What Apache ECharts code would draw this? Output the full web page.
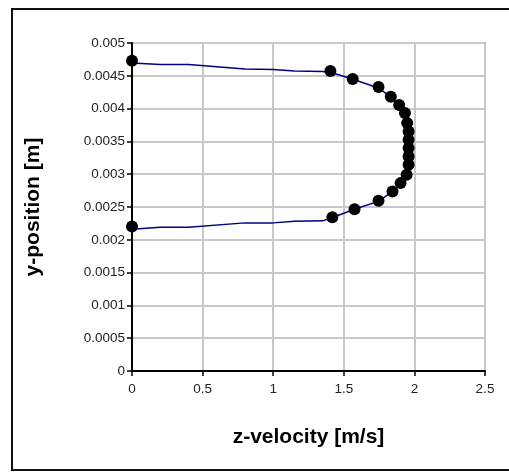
<!DOCTYPE html>
<html>
<head>
<meta charset="utf-8">
<script src="https://cdn.jsdelivr.net/npm/echarts@6/dist/echarts.min.js"></script>
<style>
html,body{margin:0;padding:0;background:#fff;}
#chart{width:509px;height:472px;}
</style>
</head>
<body>
<div id="chart"></div>
<script>
// Measured data points (markers)
var pointX = [0, 1.405, 1.563, 1.746, 1.833, 1.892, 1.933, 1.949, 1.959, 1.959, 1.959, 1.959, 1.959, 1.945, 1.902, 1.845, 1.746, 1.576, 1.419, 0];
var pointY = [0.00473, 0.004573, 0.004451, 0.004329, 0.004181, 0.004054, 0.003932, 0.003779, 0.003651, 0.003525, 0.003398, 0.00327, 0.003143, 0.002991, 0.002864, 0.002736, 0.002594, 0.002467, 0.002345, 0.002202];

// Computed profile (line)
var lineX = [0, 0.2, 0.4, 0.8, 1.0, 1.15, 1.35, 1.41, 1.56, 1.75, 1.83, 1.89, 1.93, 1.95, 1.96, 1.96, 1.96, 1.96, 1.96, 1.945, 1.9, 1.845, 1.75, 1.58, 1.42, 1.35, 1.15, 1.0, 0.8, 0.4, 0.2, 0];
var lineY = [0.004695, 0.004674, 0.004674, 0.004603, 0.004597, 0.004573, 0.004567, 0.00455, 0.00445, 0.00431, 0.00418, 0.00405, 0.00393, 0.00378, 0.00365, 0.00352, 0.0034, 0.00327, 0.00314, 0.00299, 0.00286, 0.00274, 0.00259, 0.00247, 0.00234, 0.002289, 0.002284, 0.002258, 0.002258, 0.002193, 0.002193, 0.002162];

var xName = 'z-velocity [m/s]';
var yName = 'y-position [m]';

function zip(a, b) { return a.map(function (v, i) { return [v, b[i]]; }); }

var chart = echarts.init(document.getElementById('chart'), null, {renderer: 'canvas'});
var font = '"Liberation Sans", Arial, sans-serif';
chart.setOption({
  animation: false,
  backgroundColor: '#fff',
  graphic: [{
    type: 'rect', z: -1,
    shape: {x: 12, y: 9, width: 500, height: 461},
    style: {fill: 'none', stroke: '#111', lineWidth: 2}
  }],
  grid: {left: 132, right: 24, top: 43, bottom: 101, show: true, borderColor: '#999', borderWidth: 2, backgroundColor: 'transparent'},
  xAxis: {
    type: 'value', min: 0, max: 2.5, interval: 0.5,
    name: xName, nameLocation: 'middle', nameGap: 56,
    nameTextStyle: {fontFamily: font, fontWeight: 'bold', fontSize: 21, color: '#000'},
    axisLine: {show: true, onZero: false, lineStyle: {color: '#000', width: 2}},
    axisTick: {show: true, length: 5, lineStyle: {color: '#000', width: 1.5}},
    axisLabel: {fontFamily: font, fontSize: 13.5, color: '#222', margin: 11,
      formatter: function (v) { return String(parseFloat(v.toFixed(4))); }},
    splitLine: {show: true, lineStyle: {color: '#c8c8c8', width: 2}}
  },
  yAxis: {
    type: 'value', min: 0, max: 0.005, interval: 0.0005,
    name: yName, nameLocation: 'middle', nameGap: 88, nameRotate: 90,
    nameTextStyle: {fontFamily: font, fontWeight: 'bold', fontSize: 21, color: '#000'},
    axisLine: {show: true, onZero: false, lineStyle: {color: '#000', width: 2}},
    axisTick: {show: true, length: 5, lineStyle: {color: '#000', width: 1.5}},
    axisLabel: {fontFamily: font, fontSize: 13.5, color: '#222', margin: 7,
      formatter: function (v) { return String(parseFloat(v.toFixed(6))); }},
    splitLine: {show: true, lineStyle: {color: '#c8c8c8', width: 2}}
  },
  series: [{
    type: 'line', data: zip(lineX, lineY), showSymbol: false, symbol: 'none',
    lineStyle: {color: '#000080', width: 1.5}, z: 2
  }, {
    type: 'scatter', data: zip(pointX, pointY), symbol: 'circle', symbolSize: 12,
    itemStyle: {color: '#000', opacity: 1}, z: 3
  }]
});
</script>
</body>
</html>
